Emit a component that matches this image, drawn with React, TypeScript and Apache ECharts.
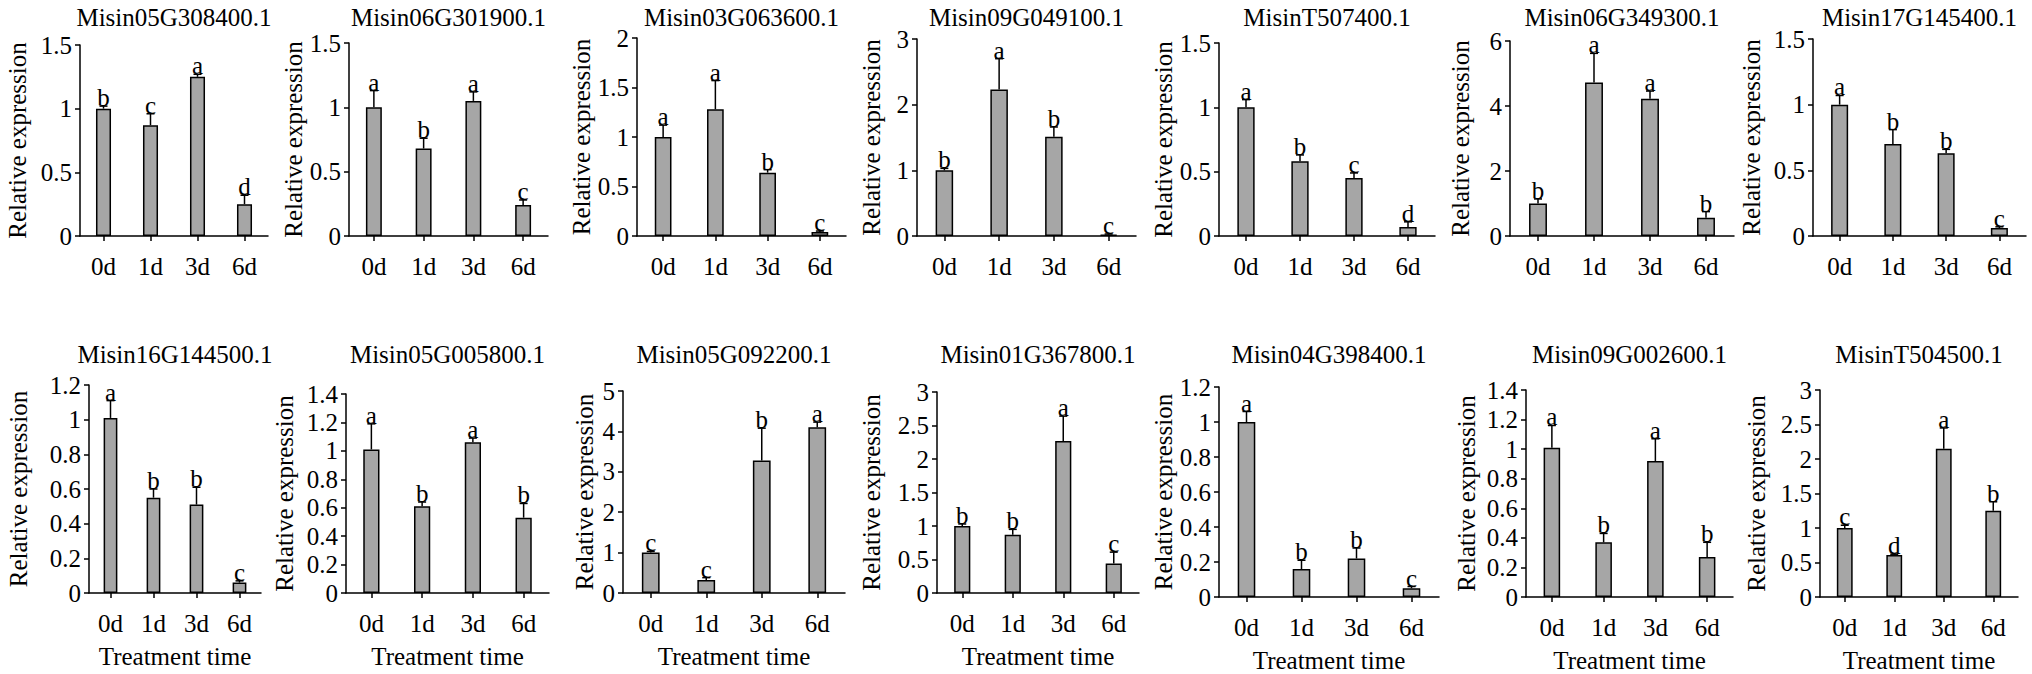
import React, { useEffect, useRef } from 'react';
import * as echarts from 'echarts';

const CATEGORIES = ['0d', '1d', '3d', '6d'];

const GENES = [
  'Misin05G308400.1', 'Misin06G301900.1', 'Misin03G063600.1', 'Misin09G049100.1',
  'MisinT507400.1', 'Misin06G349300.1', 'Misin17G145400.1',
  'Misin16G144500.1', 'Misin05G005800.1', 'Misin05G092200.1', 'Misin01G367800.1',
  'Misin04G398400.1', 'Misin09G002600.1', 'MisinT504500.1',
];

const Y_MAX = [1.5, 1.5, 2, 3, 1.5, 6, 1.5, 1.2, 1.4, 5, 3, 1.2, 1.4, 3];
const Y_STEP = [0.5, 0.5, 0.5, 1, 0.5, 2, 0.5, 0.2, 0.2, 1, 0.5, 0.2, 0.2, 0.5];

const MEANS = [
  [1.0, 0.87, 1.25, 0.25],
  [1.0, 0.68, 1.05, 0.24],
  [1.0, 1.28, 0.64, 0.04],
  [1.0, 2.23, 1.51, 0.02],
  [1.0, 0.58, 0.45, 0.07],
  [1.0, 4.72, 4.22, 0.56],
  [1.0, 0.7, 0.63, 0.06],
  [1.01, 0.55, 0.51, 0.06],
  [1.01, 0.61, 1.06, 0.53],
  [1.0, 0.32, 3.28, 4.1],
  [1.0, 0.87, 2.27, 0.44],
  [1.0, 0.16, 0.22, 0.05],
  [1.01, 0.37, 0.92, 0.27],
  [1.0, 0.61, 2.15, 1.25],
];

const ERRORS = [
  [0.02, 0.09, 0.02, 0.07],
  [0.13, 0.08, 0.07, 0.04],
  [0.12, 0.29, 0.03, 0.01],
  [0.03, 0.47, 0.15, 0.01],
  [0.06, 0.05, 0.04, 0.04],
  [0.14, 0.9, 0.24, 0.19],
  [0.07, 0.11, 0.03, 0.01],
  [0.1, 0.05, 0.1, 0.01],
  [0.18, 0.03, 0.03, 0.1],
  [0.03, 0.06, 0.8, 0.13],
  [0.03, 0.08, 0.37, 0.17],
  [0.06, 0.05, 0.06, 0.01],
  [0.15, 0.06, 0.15, 0.1],
  [0.04, 0.01, 0.3, 0.13],
];

const LETTERS = [
  ['b', 'c', 'a', 'd'],
  ['a', 'b', 'a', 'c'],
  ['a', 'a', 'b', 'c'],
  ['b', 'a', 'b', 'c'],
  ['a', 'b', 'c', 'd'],
  ['b', 'a', 'a', 'b'],
  ['a', 'b', 'b', 'c'],
  ['a', 'b', 'b', 'c'],
  ['a', 'b', 'a', 'b'],
  ['c', 'c', 'b', 'a'],
  ['b', 'b', 'a', 'c'],
  ['a', 'b', 'b', 'c'],
  ['a', 'b', 'a', 'b'],
  ['c', 'd', 'a', 'b'],
];

// layout (pixels)
const GRID_LEFT = [80, 349, 637, 917, 1219, 1510, 1813, 89, 346, 623, 937, 1219, 1526, 1820];
const GRID_RIGHT = [268, 548, 846, 1136, 1435, 1734, 2026, 261, 549, 845, 1139, 1439, 1733, 2018];
const GRID_TOP = [45, 43, 38, 39, 43, 41, 39, 385, 394, 391, 392, 387, 390, 390];
const GRID_BOTTOM = [236, 236, 236, 236, 236, 236, 236, 593, 593, 593, 593, 597, 597, 597];
const NAME_GAP = [50, 41, 40, 33, 43, 37, 49, 58, 49, 26, 53, 42, 47, 51];

const FONT = 'Liberation Serif, Times New Roman, Times, serif';
const FS = 25;
const LW = 1.5;

export default function App() {
  const ref = useRef<HTMLDivElement>(null);

  useEffect(() => {
    const chart = echarts.init(ref.current as HTMLDivElement, null, { renderer: 'svg' });
    const grids: any[] = [];
    const xAxes: any[] = [];
    const yAxes: any[] = [];
    const series: any[] = [];
    const titles: any[] = [];
    const textStyle = { color: '#000', fontSize: FS, fontFamily: FONT, fontWeight: 'normal' };

    GENES.forEach((gene, i) => {
      const row2 = i >= 7;
      grids.push({
        left: GRID_LEFT[i],
        top: GRID_TOP[i],
        width: GRID_RIGHT[i] - GRID_LEFT[i],
        height: GRID_BOTTOM[i] - GRID_TOP[i],
      });
      xAxes.push({
        type: 'category',
        gridIndex: i,
        data: CATEGORIES,
        axisLine: { show: true, lineStyle: { color: '#000', width: LW } },
        axisTick: { show: true, alignWithLabel: true, length: 5, lineStyle: { color: '#000', width: LW } },
        axisLabel: { ...textStyle, margin: 18 },
        name: row2 ? 'Treatment time' : '',
        nameLocation: 'middle',
        nameGap: 51,
        nameTextStyle: textStyle,
      });
      yAxes.push({
        type: 'value',
        gridIndex: i,
        min: 0,
        max: Y_MAX[i],
        interval: Y_STEP[i],
        axisLine: { show: true, lineStyle: { color: '#000', width: LW } },
        axisTick: { show: true, length: 5, lineStyle: { color: '#000', width: LW } },
        splitLine: { show: false },
        axisLabel: { ...textStyle, margin: 8 },
        name: 'Relative expression',
        nameLocation: 'middle',
        nameRotate: 90,
        nameGap: NAME_GAP[i],
        nameTextStyle: textStyle,
      });
      series.push({
        type: 'bar',
        xAxisIndex: i,
        yAxisIndex: i,
        data: MEANS[i],
        barWidth: '32%',
        silent: true,
        itemStyle: { color: '#a6a6a6', borderColor: '#000', borderWidth: LW },
      });
      series.push({
        type: 'custom',
        xAxisIndex: i,
        yAxisIndex: i,
        silent: true,
        z: 3,
        encode: { x: 0, y: 1 },
        data: MEANS[i].map((m, j) => [j, m, ERRORS[i][j]]),
        renderItem: (params: any, api: any) => {
          const idx = api.value(0);
          const m = api.value(1);
          const e = api.value(2);
          const p0 = api.coord([idx, m]);
          const p1 = api.coord([idx, m + e]);
          const letter = LETTERS[i][params.dataIndex];
          const ls = { stroke: '#000', lineWidth: LW };
          return {
            type: 'group',
            children: [
              { type: 'line', shape: { x1: p0[0], y1: p0[1], x2: p1[0], y2: p1[1] }, style: ls },
              { type: 'line', shape: { x1: p1[0] - 4, y1: p1[1], x2: p1[0] + 4, y2: p1[1] }, style: ls },
              {
                type: 'text',
                x: p1[0],
                y: p1[1] + 4,
                style: {
                  text: letter,
                  align: 'center',
                  verticalAlign: 'bottom',
                  textAlign: 'center',
                  textVerticalAlign: 'bottom',
                  fontSize: FS,
                  fontFamily: FONT,
                  fill: '#000',
                },
              },
            ],
          };
        },
      });
      titles.push({
        text: gene,
        left: (GRID_LEFT[i] + GRID_RIGHT[i]) / 2,
        top: row2 ? 342 : 5,
        textAlign: 'center',
        padding: 0,
        textStyle,
      });
    });

    chart.setOption({
      animation: false,
      backgroundColor: '#fff',
      title: titles,
      grid: grids,
      xAxis: xAxes,
      yAxis: yAxes,
      series,
    });
    return () => chart.dispose();
  }, []);

  return (
    <div
      ref={ref}
      style={{ position: 'absolute', left: 0, top: 0, width: 2032, height: 674, background: '#fff' }}
    />
  );
}
